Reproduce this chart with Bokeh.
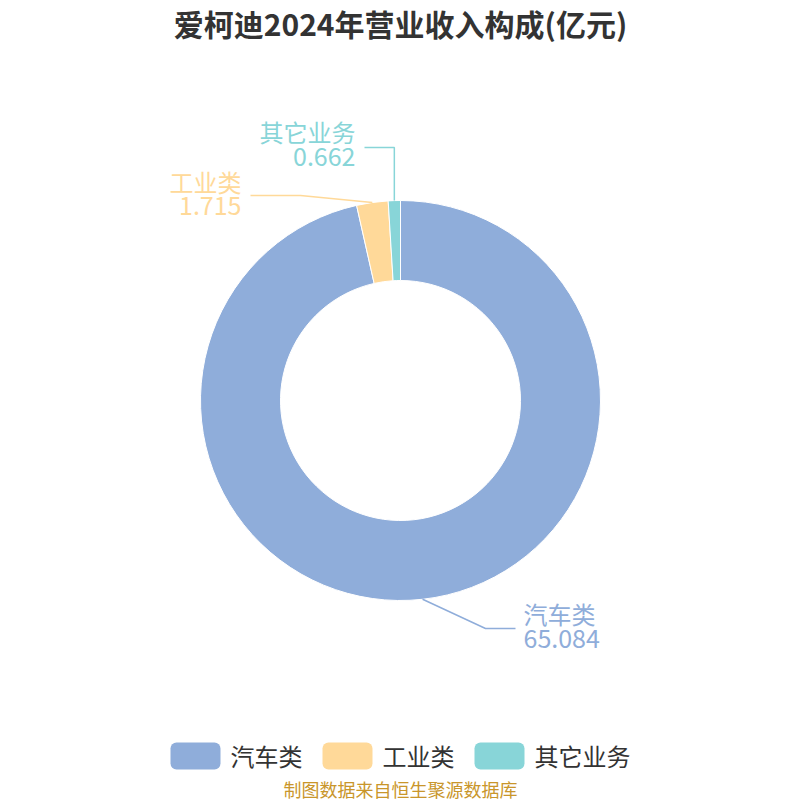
import math
from bokeh.plotting import figure
from bokeh.models import ColumnDataSource, Range1d
from bokeh.core.properties import value
from bokeh.embed import file_html
from bokeh.resources import INLINE

# ---- data ----
categories = ["汽车类", "工业类", "其它业务"]
values = [65.084, 1.715, 0.662]
value_labels = ["65.084", "1.715", "0.662"]
colors = ["#8FADDA", "#FFD999", "#88D5D8"]
title_text = "爱柯迪2024年营业收入构成(亿元)"
source_text = "制图数据来自恒生聚源数据库"

FONT = "Noto Sans CJK SC"

# page coords: data y = 800 - pixel y
def py(pix):
    return 800 - pix

p = figure(width=800, height=800, output_backend="svg", toolbar_location=None,
           x_range=Range1d(0, 800), y_range=Range1d(0, 800), min_border=0)
p.axis.visible = False
p.grid.visible = False
p.outline_line_color = None
p.background_fill_color = "white"
p.border_fill_color = "white"

cx, cy = 400, 400
R_OUT, R_IN = 200, 120

total = sum(values)
starts, ends, mids = [], [], []
acc = 0.0
for v in values:
    a0 = math.pi / 2 - 2 * math.pi * acc / total
    acc += v
    a1 = math.pi / 2 - 2 * math.pi * acc / total
    starts.append(a0)
    ends.append(a1)
    mids.append((a0 + a1) / 2)

src = ColumnDataSource(dict(start=starts, end=ends, color=colors, cat=categories))
p.annular_wedge(x=cx, y=cy, inner_radius=R_IN, outer_radius=R_OUT,
                start_angle="start", end_angle="end", direction="clock",
                fill_color="color", line_color="white", line_width=1, source=src)

# ---- leader lines & labels (layout per label, pixel coords) ----
label_layout = [
    dict(elbow=(485, 628), end=(515, 628), tx=523, ny=613, vy=638, align="left"),
    dict(elbow=(300, 195), end=(250, 195), tx=241, ny=181, vy=205, align="right"),
    dict(elbow=None, end=(364, 147), tx=355, ny=131, vy=156, align="right"),
]
for i, lay in enumerate(label_layout):
    sx = cx + R_OUT * math.cos(mids[i])
    sy = cy + R_OUT * math.sin(mids[i])
    if lay["elbow"] is None:
        ex, ey = sx, py(lay["end"][1])
    else:
        ex, ey = lay["elbow"][0], py(lay["elbow"][1])
    xs = [sx, ex, lay["end"][0]]
    ys = [sy, ey, py(lay["end"][1])]
    p.line(xs, ys, line_color=colors[i], line_width=1.5)
    p.text(x=[lay["tx"]], y=[py(lay["ny"])], text=[categories[i]],
           text_font=value(FONT), text_font_size="24px", text_color=colors[i],
           text_align=lay["align"], text_baseline="middle")
    p.text(x=[lay["tx"]], y=[py(lay["vy"])], text=[value_labels[i]],
           text_font=value(FONT), text_font_size="25px", text_color=colors[i],
           text_align=lay["align"], text_baseline="middle")

# ---- title ----
p.text(x=[400], y=[py(22)], text=[title_text], text_font=value(FONT),
       text_font_size="30px", text_font_style="bold", text_color="#333333",
       text_align="center", text_baseline="middle")

# ---- legend ----
leg_box_x = [170, 322, 474]
for i, cat in enumerate(categories):
    x0 = leg_box_x[i]
    p.rect(x=[x0 + 25], y=[py(755.5)], width=50, height=27, fill_color=colors[i],
           line_color=None, border_radius=6)
    p.text(x=[x0 + 60], y=[py(755)], text=[cat], text_font=value(FONT),
           text_font_size="24px", text_color="#333333",
           text_align="left", text_baseline="middle")

# ---- source ----
p.text(x=[400], y=[py(788)], text=[source_text], text_font=value(FONT),
       text_font_size="18px", text_color="#C9962B",
       text_align="center", text_baseline="middle")

open("out.html", "w").write(file_html(p, INLINE))
